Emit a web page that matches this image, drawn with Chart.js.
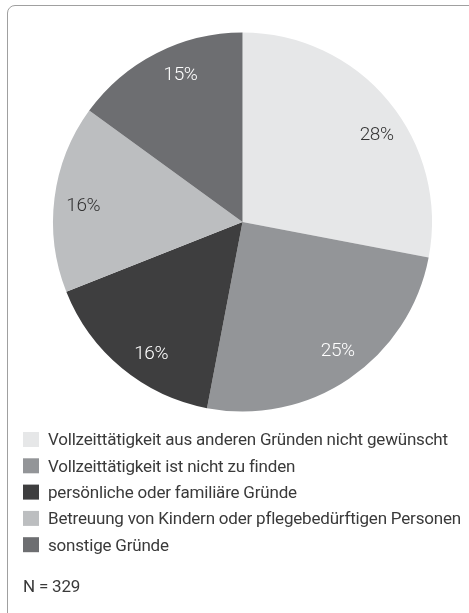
<!DOCTYPE html>
<html>
<head>
<meta charset="utf-8">
<script src="https://cdn.jsdelivr.net/npm/chart.js@4/dist/chart.umd.min.js"></script>
<style>
  html, body { margin: 0; padding: 0; background: #fff; overflow: hidden; }
  #wrap { position: relative; width: 469px; height: 613px; overflow: hidden; }
  #frame { position: absolute; left: 7px; top: 5px; width: 520px; height: 640px;
           border: 1.5px solid #a0a0a0; border-top-left-radius: 8px; box-sizing: border-box; }
  canvas { position: absolute; left: 0; top: 0; }
</style>
</head>
<body>
<div id="wrap">
  <div id="frame"></div>
  <canvas id="c" width="469" height="613"></canvas>
</div>
<script>
const categories = [
  'Vollzeittätigkeit aus anderen Gründen nicht gewünscht',
  'Vollzeittätigkeit ist nicht zu finden',
  'persönliche oder familiäre Gründe',
  'Betreuung von Kindern oder pflegebedürftigen Personen',
  'sonstige Gründe'
];
const shares = [28, 25, 16, 16, 15];
const sampleNote = 'N = 329';

const sliceColors = ['#e6e7e8', '#939598', '#3e3e3f', '#bcbec0', '#6d6e71'];
const labelColors = ['#333333', '#ffffff', '#ffffff', '#333333', '#ffffff'];
// angular nudge (degrees) of each percentage label relative to the slice middle
const labelNudgeDeg = [6.5, -2.3, -4.8, -1.1, 4.2];
const FONT_FAMILY = 'Roboto, "Open Sans", sans-serif';

const pctPlugin = {
  id: 'pct',
  afterDatasetsDraw(chart) {
    const ctx = chart.ctx;
    const meta = chart.getDatasetMeta(0);
    ctx.save();
    ctx.font = '300 19px ' + FONT_FAMILY;
    if ('letterSpacing' in ctx) ctx.letterSpacing = '-0.4px';
    ctx.textAlign = 'center';
    ctx.textBaseline = 'middle';
    meta.data.forEach((arc, i) => {
      const p = arc.getProps(['x', 'y', 'startAngle', 'endAngle', 'outerRadius'], true);
      const a = (p.startAngle + p.endAngle) / 2 + labelNudgeDeg[i] * Math.PI / 180;
      const r = p.outerRadius * 0.845;
      ctx.fillStyle = labelColors[i];
      ctx.fillText(shares[i] + '%', p.x + Math.cos(a) * r, p.y + Math.sin(a) * r + 1);
    });
    ctx.restore();
  }
};

const legendPlugin = {
  id: 'customLegend',
  afterDraw(chart) {
    const ctx = chart.ctx;
    ctx.save();
    ctx.font = '400 17px ' + FONT_FAMILY;
    if ('letterSpacing' in ctx) ctx.letterSpacing = '-0.2px';
    ctx.textBaseline = 'alphabetic';
    ctx.textAlign = 'left';
    const x0 = 23, y0 = 432, step = 26.3, box = 15;
    categories.forEach((lab, i) => {
      const y = y0 + i * step;
      ctx.fillStyle = sliceColors[i];
      ctx.fillRect(x0, y, box + 1, box);
      ctx.fillStyle = '#3a3a3a';
      ctx.fillText(lab, 48, y + 13.3);
    });
    ctx.fillText(sampleNote, 23, 592.3);
    ctx.restore();
  }
};

new Chart(document.getElementById('c'), {
  type: 'pie',
  data: {
    labels: categories,
    datasets: [{
      data: shares,
      backgroundColor: sliceColors,
      borderWidth: 0
    }]
  },
  options: {
    responsive: false,
    animation: false,
    layout: { padding: { left: 53, right: 37, top: 32.5, bottom: 201.5 } },
    plugins: {
      legend: { display: false },
      tooltip: { enabled: false }
    }
  },
  plugins: [pctPlugin, legendPlugin]
});
</script>
</body>
</html>
